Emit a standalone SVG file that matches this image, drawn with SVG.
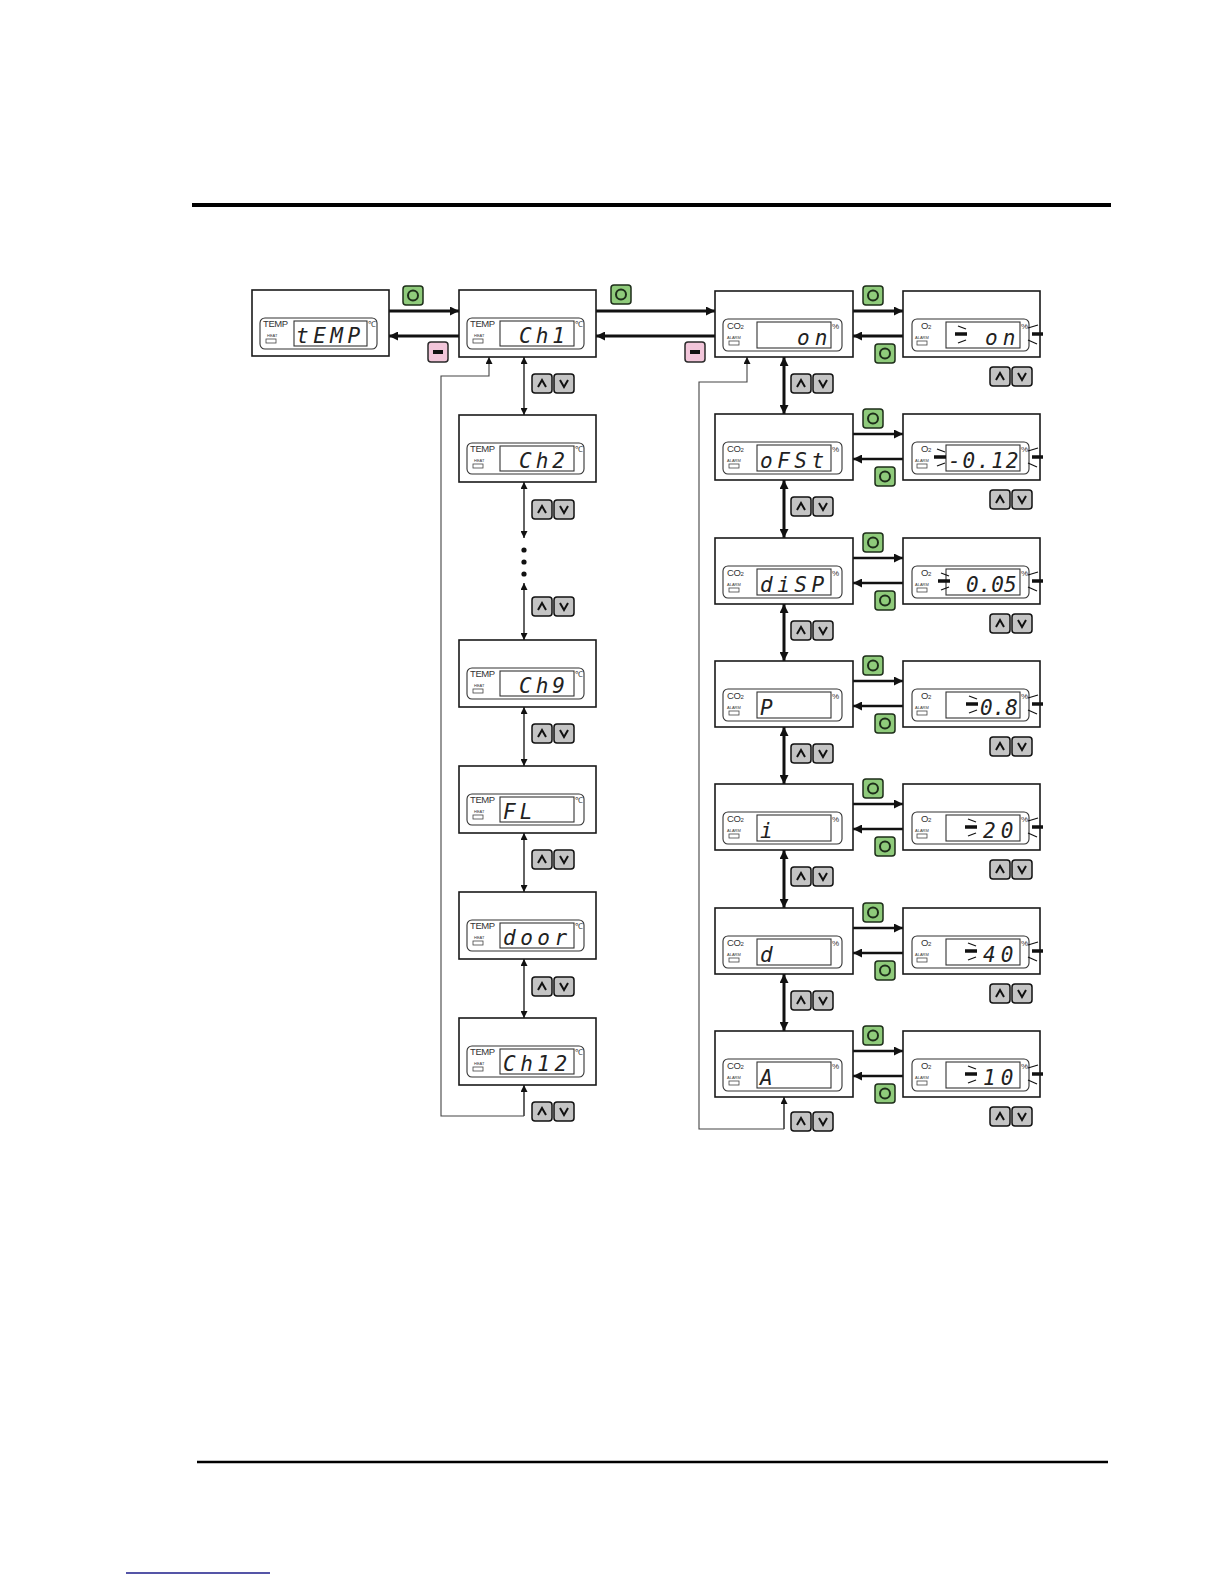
<svg xmlns="http://www.w3.org/2000/svg" xmlns:xlink="http://www.w3.org/1999/xlink" width="1224" height="1584" viewBox="0 0 1224 1584">
<style>
.box{fill:#fff;stroke:#1a1a1a;stroke-width:1.6}
.panel{fill:#fff;stroke:#333;stroke-width:1.1}
.lcd{fill:#fff;stroke:#333;stroke-width:1.1}
.lbl{font-family:"Liberation Sans",Arial,sans-serif;font-size:9.5px;fill:#333;letter-spacing:-0.4px}
.tiny{font-family:"Liberation Sans",Arial,sans-serif;font-size:4px;fill:#333}
.ind{fill:#fff;stroke:#444;stroke-width:0.8}
.unit{font-family:"Liberation Sans",Arial,sans-serif;font-size:8px;fill:#333}
.seg{font-family:"DejaVu Sans Mono",monospace;font-size:21px;font-style:oblique;fill:#222}
.blk{stroke:#111;stroke-width:1.3;fill:none}
.blkb{stroke:#111;stroke-width:3.5;fill:none}
.thick{stroke:#111;stroke-width:3;fill:none}
.med{stroke:#111;stroke-width:2.4;fill:none}
.thin{stroke:#222;stroke-width:1.4;fill:none}
.loop{stroke:#444;stroke-width:1.1;fill:none}
</style>
<defs>
<marker id="ahL" viewBox="0 0 10 10" refX="10" refY="5" markerWidth="11" markerHeight="9" markerUnits="userSpaceOnUse" orient="auto-start-reverse"><path d="M0,0 L10,5 L0,10 z" fill="#111"/></marker>
<marker id="ahS" viewBox="0 0 10 10" refX="10" refY="5" markerWidth="8" markerHeight="7" markerUnits="userSpaceOnUse" orient="auto-start-reverse"><path d="M0,0 L10,5 L0,10 z" fill="#111"/></marker>
<g id="btnO"><rect x="0" y="0" width="20" height="19" rx="3" fill="#8fcb7b" stroke="#1e2e1a" stroke-width="1.5"/><circle cx="10" cy="9.5" r="5" fill="none" stroke="#1e2e1a" stroke-width="2"/></g>
<g id="btnM"><rect x="0" y="0" width="20" height="20" rx="3" fill="#f2c6da" stroke="#2a2a2a" stroke-width="1.5"/><rect x="5" y="8" width="10" height="4" fill="#111"/></g>
<g id="btnUD"><rect x="0" y="0" width="20" height="19" rx="3" fill="#c4c4c4" stroke="#111" stroke-width="1.5"/><rect x="22" y="0" width="20" height="19" rx="3" fill="#c4c4c4" stroke="#111" stroke-width="1.5"/><polyline points="6,13 10,6 14,13" fill="none" stroke="#111" stroke-width="2"/><polyline points="28,6 32,13 36,6" fill="none" stroke="#111" stroke-width="2"/></g>
<g id="blinkL"><line class="blk" x1="3" y1="35" x2="11" y2="38"/><line class="blkb" x1="0" y1="43" x2="12" y2="43"/><line class="blk" x1="3" y1="52" x2="11" y2="49"/></g>
<g id="blinkR"><line class="blk" x1="125" y1="37" x2="135" y2="34"/><line class="blkb" x1="129" y1="43" x2="140" y2="43"/><line class="blk" x1="125" y1="49" x2="134" y2="53"/></g>
</defs>
<rect width="1224" height="1584" fill="#fff"/>
<line x1="192" y1="205" x2="1111" y2="205" stroke="#000" stroke-width="4"/>
<line x1="197" y1="1462" x2="1108" y2="1462" stroke="#000" stroke-width="2.5"/>
<line x1="126" y1="1573" x2="270" y2="1573" stroke="#1c1c8a" stroke-width="1.5"/>

<g id="connectors">
<line class="thick" x1="389" y1="311" x2="459" y2="311" marker-end="url(#ahL)"/>
<line class="thick" x1="459" y1="336" x2="389" y2="336" marker-end="url(#ahL)"/>
<line class="thick" x1="596" y1="311" x2="715" y2="311" marker-end="url(#ahL)"/>
<line class="thick" x1="715" y1="336" x2="596" y2="336" marker-end="url(#ahL)"/>
<line class="thin" x1="524" y1="357" x2="524" y2="415" marker-start="url(#ahS)" marker-end="url(#ahS)"/>
<line class="thin" x1="524" y1="482" x2="524" y2="538" marker-start="url(#ahS)" marker-end="url(#ahS)"/>
<line class="thin" x1="524" y1="583" x2="524" y2="640" marker-start="url(#ahS)" marker-end="url(#ahS)"/>
<line class="thin" x1="524" y1="707" x2="524" y2="766" marker-start="url(#ahS)" marker-end="url(#ahS)"/>
<line class="thin" x1="524" y1="833" x2="524" y2="892" marker-start="url(#ahS)" marker-end="url(#ahS)"/>
<line class="thin" x1="524" y1="959" x2="524" y2="1018" marker-start="url(#ahS)" marker-end="url(#ahS)"/>
<line class="thin" x1="524" y1="1116" x2="524" y2="1085" marker-end="url(#ahS)"/>
<polyline class="loop" points="524,1116 441,1116 441,376 489,376 489,357" marker-end="url(#ahS)"/>
<circle cx="524" cy="550" r="2.6" fill="#111"/>
<circle cx="524" cy="562" r="2.6" fill="#111"/>
<circle cx="524" cy="574" r="2.6" fill="#111"/>
<line class="thick" x1="784" y1="357" x2="784" y2="414" marker-start="url(#ahL)" marker-end="url(#ahL)"/>
<line class="thick" x1="784" y1="480" x2="784" y2="538" marker-start="url(#ahL)" marker-end="url(#ahL)"/>
<line class="thick" x1="784" y1="604" x2="784" y2="661" marker-start="url(#ahL)" marker-end="url(#ahL)"/>
<line class="thick" x1="784" y1="727" x2="784" y2="784" marker-start="url(#ahL)" marker-end="url(#ahL)"/>
<line class="thick" x1="784" y1="850" x2="784" y2="908" marker-start="url(#ahL)" marker-end="url(#ahL)"/>
<line class="thick" x1="784" y1="974" x2="784" y2="1031" marker-start="url(#ahL)" marker-end="url(#ahL)"/>
<line class="thin" x1="784" y1="1129" x2="784" y2="1097" marker-end="url(#ahS)"/>
<polyline class="loop" points="784,1129 699,1129 699,382 747,382 747,357" marker-end="url(#ahS)"/>
<line class="thick" x1="853" y1="311" x2="903" y2="311" marker-end="url(#ahL)"/>
<line class="thick" x1="903" y1="336" x2="853" y2="336" marker-end="url(#ahL)"/>
<line class="med" x1="853" y1="434" x2="903" y2="434" marker-end="url(#ahL)"/>
<line class="med" x1="903" y1="459" x2="853" y2="459" marker-end="url(#ahL)"/>
<line class="med" x1="853" y1="558" x2="903" y2="558" marker-end="url(#ahL)"/>
<line class="med" x1="903" y1="583" x2="853" y2="583" marker-end="url(#ahL)"/>
<line class="med" x1="853" y1="681" x2="903" y2="681" marker-end="url(#ahL)"/>
<line class="med" x1="903" y1="706" x2="853" y2="706" marker-end="url(#ahL)"/>
<line class="med" x1="853" y1="804" x2="903" y2="804" marker-end="url(#ahL)"/>
<line class="med" x1="903" y1="829" x2="853" y2="829" marker-end="url(#ahL)"/>
<line class="med" x1="853" y1="928" x2="903" y2="928" marker-end="url(#ahL)"/>
<line class="med" x1="903" y1="953" x2="853" y2="953" marker-end="url(#ahL)"/>
<line class="med" x1="853" y1="1051" x2="903" y2="1051" marker-end="url(#ahL)"/>
<line class="med" x1="903" y1="1076" x2="853" y2="1076" marker-end="url(#ahL)"/>
</g>

<g id="buttons">
<use xlink:href="#btnO" x="403" y="286"/>
<use xlink:href="#btnM" x="428" y="342"/>
<use xlink:href="#btnO" x="611" y="285"/>
<use xlink:href="#btnM" x="685" y="342"/>
<use xlink:href="#btnUD" x="532" y="374"/>
<use xlink:href="#btnUD" x="532" y="500"/>
<use xlink:href="#btnUD" x="532" y="597"/>
<use xlink:href="#btnUD" x="532" y="724"/>
<use xlink:href="#btnUD" x="532" y="850"/>
<use xlink:href="#btnUD" x="532" y="977"/>
<use xlink:href="#btnUD" x="532" y="1102"/>
<use xlink:href="#btnUD" x="791" y="374"/>
<use xlink:href="#btnUD" x="791" y="497"/>
<use xlink:href="#btnUD" x="791" y="621"/>
<use xlink:href="#btnUD" x="791" y="744"/>
<use xlink:href="#btnUD" x="791" y="867"/>
<use xlink:href="#btnUD" x="791" y="991"/>
<use xlink:href="#btnUD" x="791" y="1112"/>
<use xlink:href="#btnO" x="863" y="286"/><use xlink:href="#btnO" x="875" y="344"/><use xlink:href="#btnUD" x="990" y="367"/>
<use xlink:href="#btnO" x="863" y="409"/><use xlink:href="#btnO" x="875" y="467"/><use xlink:href="#btnUD" x="990" y="490"/>
<use xlink:href="#btnO" x="863" y="533"/><use xlink:href="#btnO" x="875" y="591"/><use xlink:href="#btnUD" x="990" y="614"/>
<use xlink:href="#btnO" x="863" y="656"/><use xlink:href="#btnO" x="875" y="714"/><use xlink:href="#btnUD" x="990" y="737"/>
<use xlink:href="#btnO" x="863" y="779"/><use xlink:href="#btnO" x="875" y="837"/><use xlink:href="#btnUD" x="990" y="860"/>
<use xlink:href="#btnO" x="863" y="903"/><use xlink:href="#btnO" x="875" y="961"/><use xlink:href="#btnUD" x="990" y="984"/>
<use xlink:href="#btnO" x="863" y="1026"/><use xlink:href="#btnO" x="875" y="1084"/><use xlink:href="#btnUD" x="990" y="1107"/>
</g>

<g id="node-temp" transform="translate(252,290)">
<rect class="box" width="137" height="66"/><rect class="panel" x="8" y="28" width="117" height="31" rx="5"/><rect class="lcd" x="42" y="31" width="73" height="25"/>
<text class="lbl" x="11" y="37">TEMP</text><text class="tiny" x="15" y="47">HEAT</text><rect class="ind" x="14" y="49" width="10" height="4"/><text class="unit" x="116" y="37">℃</text>
<text class="seg" x="44" y="53" letter-spacing="4.5">tEMP</text>
</g>
<g id="node-ch1" transform="translate(459,290)">
<rect class="box" width="137" height="67"/><rect class="panel" x="8" y="28" width="117" height="31" rx="5"/><rect class="lcd" x="41" y="31" width="74" height="25"/>
<text class="lbl" x="11" y="37">TEMP</text><text class="tiny" x="15" y="47">HEAT</text><rect class="ind" x="14" y="49" width="10" height="4"/><text class="unit" x="116" y="37">℃</text>
<text class="seg" x="60" y="53" letter-spacing="4">Ch1</text>
</g>
<g id="node-ch2" transform="translate(459,415)">
<rect class="box" width="137" height="67"/><rect class="panel" x="8" y="28" width="117" height="31" rx="5"/><rect class="lcd" x="41" y="31" width="74" height="25"/>
<text class="lbl" x="11" y="37">TEMP</text><text class="tiny" x="15" y="47">HEAT</text><rect class="ind" x="14" y="49" width="10" height="4"/><text class="unit" x="116" y="37">℃</text>
<text class="seg" x="60" y="53" letter-spacing="4">Ch2</text>
</g>
<g id="node-ch9" transform="translate(459,640)">
<rect class="box" width="137" height="67"/><rect class="panel" x="8" y="28" width="117" height="31" rx="5"/><rect class="lcd" x="41" y="31" width="74" height="25"/>
<text class="lbl" x="11" y="37">TEMP</text><text class="tiny" x="15" y="47">HEAT</text><rect class="ind" x="14" y="49" width="10" height="4"/><text class="unit" x="116" y="37">℃</text>
<text class="seg" x="60" y="53" letter-spacing="4">Ch9</text>
</g>
<g id="node-fl" transform="translate(459,766)">
<rect class="box" width="137" height="67"/><rect class="panel" x="8" y="28" width="117" height="31" rx="5"/><rect class="lcd" x="41" y="31" width="74" height="25"/>
<text class="lbl" x="11" y="37">TEMP</text><text class="tiny" x="15" y="47">HEAT</text><rect class="ind" x="14" y="49" width="10" height="4"/><text class="unit" x="116" y="37">℃</text>
<text class="seg" x="44" y="53" letter-spacing="4">FL</text>
</g>
<g id="node-door" transform="translate(459,892)">
<rect class="box" width="137" height="67"/><rect class="panel" x="8" y="28" width="117" height="31" rx="5"/><rect class="lcd" x="41" y="31" width="74" height="25"/>
<text class="lbl" x="11" y="37">TEMP</text><text class="tiny" x="15" y="47">HEAT</text><rect class="ind" x="14" y="49" width="10" height="4"/><text class="unit" x="116" y="37">℃</text>
<text class="seg" x="44" y="53" letter-spacing="4.5">door</text>
</g>
<g id="node-ch12" transform="translate(459,1018)">
<rect class="box" width="137" height="67"/><rect class="panel" x="8" y="28" width="117" height="31" rx="5"/><rect class="lcd" x="41" y="31" width="74" height="25"/>
<text class="lbl" x="11" y="37">TEMP</text><text class="tiny" x="15" y="47">HEAT</text><rect class="ind" x="14" y="49" width="10" height="4"/><text class="unit" x="116" y="37">℃</text>
<text class="seg" x="44" y="53" letter-spacing="4.5">Ch12</text>
</g>

<g id="node-co2-on" transform="translate(715,291)">
<rect class="box" width="138" height="66"/><rect class="panel" x="8" y="28" width="119" height="32" rx="5"/><rect class="lcd" x="42" y="31" width="74" height="26"/>
<text class="lbl" x="12" y="38">CO<tspan font-size="6">2</tspan></text><text class="tiny" x="12" y="48">ALARM</text><rect class="ind" x="14" y="50" width="10" height="4"/><text class="unit" x="117" y="38">%</text>
<text class="seg" x="82" y="54" letter-spacing="5">on</text>
</g>
<g id="node-co2-ofst" transform="translate(715,414)">
<rect class="box" width="138" height="66"/><rect class="panel" x="8" y="28" width="119" height="32" rx="5"/><rect class="lcd" x="42" y="31" width="74" height="26"/>
<text class="lbl" x="12" y="38">CO<tspan font-size="6">2</tspan></text><text class="tiny" x="12" y="48">ALARM</text><rect class="ind" x="14" y="50" width="10" height="4"/><text class="unit" x="117" y="38">%</text>
<text class="seg" x="45" y="54" letter-spacing="4.5">oFSt</text>
</g>
<g id="node-co2-disp" transform="translate(715,538)">
<rect class="box" width="138" height="66"/><rect class="panel" x="8" y="28" width="119" height="32" rx="5"/><rect class="lcd" x="42" y="31" width="74" height="26"/>
<text class="lbl" x="12" y="38">CO<tspan font-size="6">2</tspan></text><text class="tiny" x="12" y="48">ALARM</text><rect class="ind" x="14" y="50" width="10" height="4"/><text class="unit" x="117" y="38">%</text>
<text class="seg" x="45" y="54" letter-spacing="4.5">diSP</text>
</g>
<g id="node-co2-p" transform="translate(715,661)">
<rect class="box" width="138" height="66"/><rect class="panel" x="8" y="28" width="119" height="32" rx="5"/><rect class="lcd" x="42" y="31" width="74" height="26"/>
<text class="lbl" x="12" y="38">CO<tspan font-size="6">2</tspan></text><text class="tiny" x="12" y="48">ALARM</text><rect class="ind" x="14" y="50" width="10" height="4"/><text class="unit" x="117" y="38">%</text>
<text class="seg" x="45" y="54">P</text>
</g>
<g id="node-co2-i" transform="translate(715,784)">
<rect class="box" width="138" height="66"/><rect class="panel" x="8" y="28" width="119" height="32" rx="5"/><rect class="lcd" x="42" y="31" width="74" height="26"/>
<text class="lbl" x="12" y="38">CO<tspan font-size="6">2</tspan></text><text class="tiny" x="12" y="48">ALARM</text><rect class="ind" x="14" y="50" width="10" height="4"/><text class="unit" x="117" y="38">%</text>
<text class="seg" x="45" y="54">i</text>
</g>
<g id="node-co2-d" transform="translate(715,908)">
<rect class="box" width="138" height="66"/><rect class="panel" x="8" y="28" width="119" height="32" rx="5"/><rect class="lcd" x="42" y="31" width="74" height="26"/>
<text class="lbl" x="12" y="38">CO<tspan font-size="6">2</tspan></text><text class="tiny" x="12" y="48">ALARM</text><rect class="ind" x="14" y="50" width="10" height="4"/><text class="unit" x="117" y="38">%</text>
<text class="seg" x="45" y="54">d</text>
</g>
<g id="node-co2-a" transform="translate(715,1031)">
<rect class="box" width="138" height="66"/><rect class="panel" x="8" y="28" width="119" height="32" rx="5"/><rect class="lcd" x="42" y="31" width="74" height="26"/>
<text class="lbl" x="12" y="38">CO<tspan font-size="6">2</tspan></text><text class="tiny" x="12" y="48">ALARM</text><rect class="ind" x="14" y="50" width="10" height="4"/><text class="unit" x="117" y="38">%</text>
<text class="seg" x="45" y="54">A</text>
</g>

<g id="node-o2-on" transform="translate(903,291)">
<rect class="box" width="137" height="66"/><rect class="panel" x="9" y="28" width="117" height="32" rx="5"/><rect class="lcd" x="43" y="31" width="74" height="26"/>
<text class="lbl" x="18" y="38">O<tspan font-size="6">2</tspan></text><text class="tiny" x="12" y="48">ALARM</text><rect class="ind" x="14" y="50" width="10" height="4"/><text class="unit" x="118" y="38">%</text>
<use xlink:href="#blinkL" x="52"/><use xlink:href="#blinkR"/>
<text class="seg" x="82" y="54" letter-spacing="5">on</text>
</g>
<g id="node-o2-ofst" transform="translate(903,414)">
<rect class="box" width="137" height="66"/><rect class="panel" x="9" y="28" width="117" height="32" rx="5"/><rect class="lcd" x="43" y="31" width="74" height="26"/>
<text class="lbl" x="18" y="38">O<tspan font-size="6">2</tspan></text><text class="tiny" x="12" y="48">ALARM</text><rect class="ind" x="14" y="50" width="10" height="4"/><text class="unit" x="118" y="38">%</text>
<use xlink:href="#blinkL" x="31"/><use xlink:href="#blinkR"/>
<text class="seg" x="45" y="54" letter-spacing="1.8">-0.12</text>
</g>
<g id="node-o2-disp" transform="translate(903,538)">
<rect class="box" width="137" height="66"/><rect class="panel" x="9" y="28" width="117" height="32" rx="5"/><rect class="lcd" x="43" y="31" width="74" height="26"/>
<text class="lbl" x="18" y="38">O<tspan font-size="6">2</tspan></text><text class="tiny" x="12" y="48">ALARM</text><rect class="ind" x="14" y="50" width="10" height="4"/><text class="unit" x="118" y="38">%</text>
<use xlink:href="#blinkL" x="35"/><use xlink:href="#blinkR"/>
<text class="seg" x="63" y="54">0.05</text>
</g>
<g id="node-o2-p" transform="translate(903,661)">
<rect class="box" width="137" height="66"/><rect class="panel" x="9" y="28" width="117" height="32" rx="5"/><rect class="lcd" x="43" y="31" width="74" height="26"/>
<text class="lbl" x="18" y="38">O<tspan font-size="6">2</tspan></text><text class="tiny" x="12" y="48">ALARM</text><rect class="ind" x="14" y="50" width="10" height="4"/><text class="unit" x="118" y="38">%</text>
<use xlink:href="#blinkL" x="63"/><use xlink:href="#blinkR"/>
<text class="seg" x="77" y="54">0.8</text>
</g>
<g id="node-o2-i" transform="translate(903,784)">
<rect class="box" width="137" height="66"/><rect class="panel" x="9" y="28" width="117" height="32" rx="5"/><rect class="lcd" x="43" y="31" width="74" height="26"/>
<text class="lbl" x="18" y="38">O<tspan font-size="6">2</tspan></text><text class="tiny" x="12" y="48">ALARM</text><rect class="ind" x="14" y="50" width="10" height="4"/><text class="unit" x="118" y="38">%</text>
<use xlink:href="#blinkL" x="62"/><use xlink:href="#blinkR"/>
<text class="seg" x="80" y="54" letter-spacing="5">20</text>
</g>
<g id="node-o2-d" transform="translate(903,908)">
<rect class="box" width="137" height="66"/><rect class="panel" x="9" y="28" width="117" height="32" rx="5"/><rect class="lcd" x="43" y="31" width="74" height="26"/>
<text class="lbl" x="18" y="38">O<tspan font-size="6">2</tspan></text><text class="tiny" x="12" y="48">ALARM</text><rect class="ind" x="14" y="50" width="10" height="4"/><text class="unit" x="118" y="38">%</text>
<use xlink:href="#blinkL" x="62"/><use xlink:href="#blinkR"/>
<text class="seg" x="80" y="54" letter-spacing="5">40</text>
</g>
<g id="node-o2-a" transform="translate(903,1031)">
<rect class="box" width="137" height="66"/><rect class="panel" x="9" y="28" width="117" height="32" rx="5"/><rect class="lcd" x="43" y="31" width="74" height="26"/>
<text class="lbl" x="18" y="38">O<tspan font-size="6">2</tspan></text><text class="tiny" x="12" y="48">ALARM</text><rect class="ind" x="14" y="50" width="10" height="4"/><text class="unit" x="118" y="38">%</text>
<use xlink:href="#blinkL" x="62"/><use xlink:href="#blinkR"/>
<text class="seg" x="80" y="54" letter-spacing="5">10</text>
</g>
</svg>
